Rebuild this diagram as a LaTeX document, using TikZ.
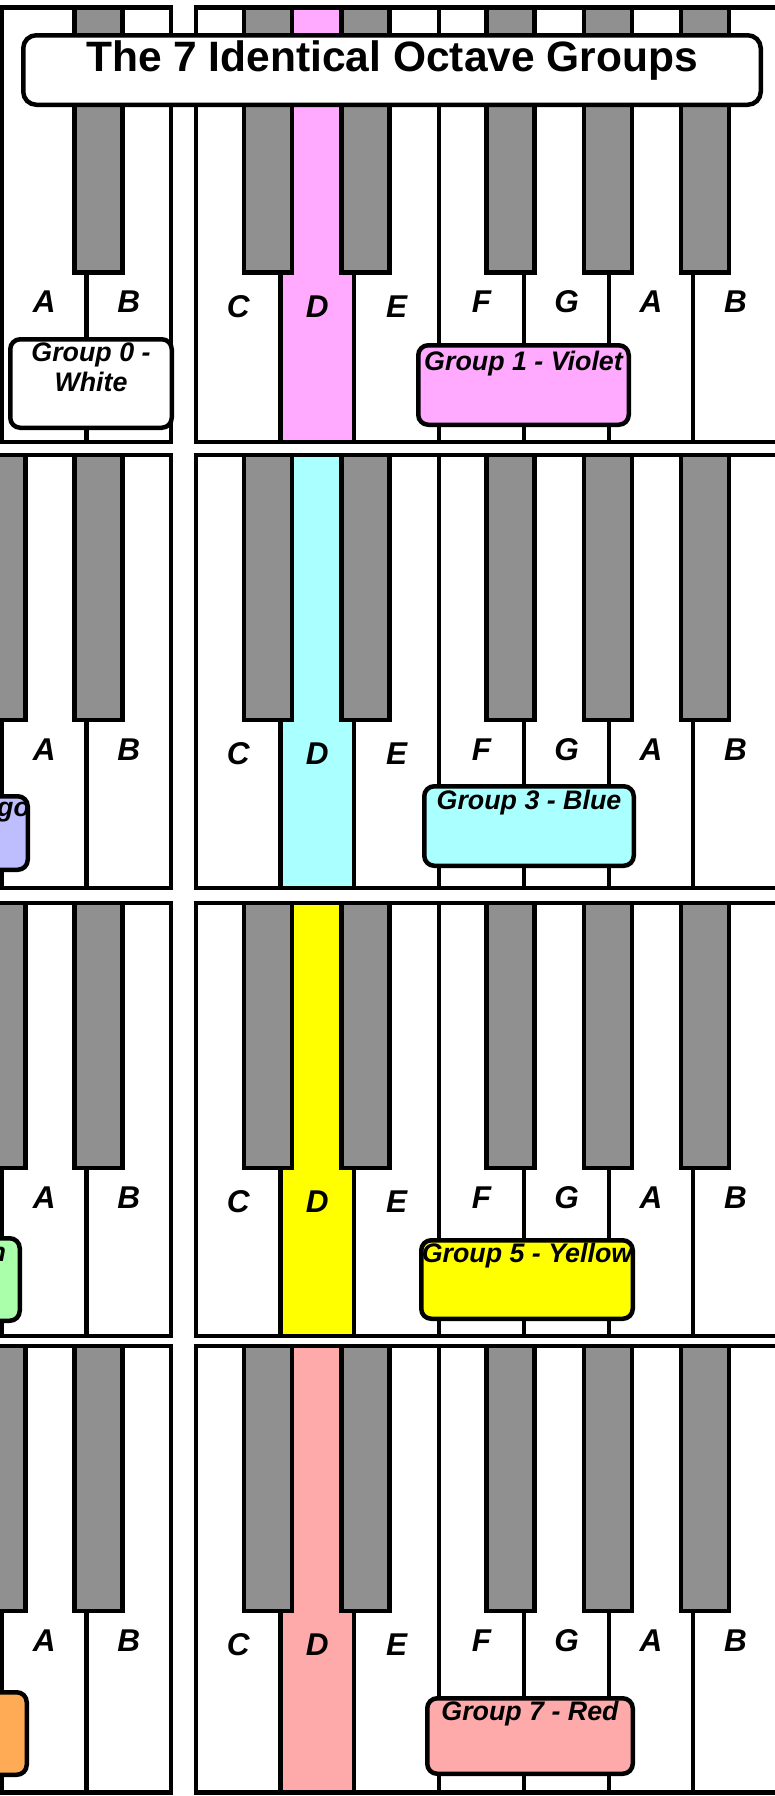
\documentclass[tikz,border=0pt]{standalone}
\usepackage{fontspec}
\setmainfont{Liberation Sans}
\usetikzlibrary{positioning}

\definecolor{keygray}{RGB}{144,144,144}
\definecolor{violetD}{RGB}{255,170,255}
\definecolor{indigoD}{RGB}{190,190,255}
\definecolor{blueD}{RGB}{170,255,255}
\definecolor{greenD}{RGB}{170,255,170}
\definecolor{yellowD}{RGB}{255,255,0}
\definecolor{orangeD}{RGB}{255,170,85}
\definecolor{redD}{RGB}{255,170,170}

\tikzset{
  keyline/.style={line width=4.5pt},
  blackkey/.style={draw=black, fill=keygray, line width=4.5pt},
  notename/.style={font=\fontsize{31.5}{31.5}\selectfont\bfseries\itshape, inner sep=0pt},
  groupbox/.style={draw=black, line width=4.5pt, rounded corners=10pt, inner sep=0pt},
  grouptext/.style={font=\fontsize{26.8}{30}\selectfont\bfseries\itshape, inner sep=0pt, align=center},
  titlebox/.style={draw=black, fill=white, line width=4.5pt, rounded corners=13pt, inner sep=0pt},
  titletext/.style={font=\fontsize{42.5}{42.5}\selectfont\bfseries, inner sep=0pt},
}

\begin{document}
\begin{tikzpicture}[x=1pt,y=-1pt]

\clip (0,0) rectangle (775,1796);
\fill[white] (0,0) rectangle (775,1796);

% one keyboard strip per row: top, bottom, colour of D
\foreach \t/\b/\dcol [count=\r] in {7.5/442/violetD, 455/888/blueD, 903/1336/yellowD, 1346/1792.5/redD}{
  \fill[\dcol] (280.5,\t) rectangle (354,\b); %D

  \draw[keyline] (2,\t) rectangle (171,\b);
  \draw[keyline] (86.5,\t) -- (86.5,\b);
  \draw[keyline] (790,\t) -- (196,\t) -- (196,\b) -- (790,\b);
  \foreach \x in {280.5,354,439,524,609,693}
    \draw[keyline] (\x,\t) -- (\x,\b);

  \foreach \x in {74.5,244,341.5,486.5,584,681}
    \draw[blackkey] (\x,\t) rectangle ++(48,265);
  \ifnum\r>1 \draw[blackkey] (-22.5,\t) rectangle ++(48,265); \fi

  \foreach \x/\n [count=\i] in {44.25/A, 128.75/B, 481.5/F, 566.5/G, 651/A, 735.5/B}
    \node[notename] (note\r-\i) at (\x,\t+294.5) {\n};
  \foreach \x/\n [count=\i] in {238.25/C, 317.25/D, 396.5/E}
    \node[notename] (low\r-\i) at (\x,\t+299) {\n};
}

% group labels
\node[groupbox, fill=white, minimum width=161.5pt, minimum height=88.5pt] (g0) at (91,383.5) {};
\node[grouptext, below=5.75pt of g0.north] (g0t) {Group 0 -\\White};
\node[groupbox, fill=violetD, minimum width=210.5pt, minimum height=79.5pt] (g1) at (523.5,385) {};
\node[grouptext, below=7.75pt of g1.north] (g1t) {Group 1 - Violet};

\node[groupbox, fill=indigoD, minimum width=202.5pt, minimum height=73.5pt] (g2) at (-73.5,833) {};
\node[grouptext, below=3.25pt of g2.north] (g2t) {Group 2 - Indigo};
\node[groupbox, fill=blueD, minimum width=209.5pt, minimum height=79.5pt] (g3) at (529,826) {};
\node[grouptext, below=5.5pt of g3.north] (g3t) {Group 3 - Blue};

\node[groupbox, fill=greenD, minimum width=205.5pt, minimum height=82.5pt] (g4) at (-83,1279.5) {};
\node[grouptext, below=6.25pt of g4.north, xshift=-13pt] (g4t) {Group 4 - Green};
\node[groupbox, fill=yellowD, minimum width=211.5pt, minimum height=78.5pt] (g5) at (527,1279.5) {};
\node[grouptext, below=4.75pt of g5.north] (g5t) {Group 5 - Yellow};

\node[groupbox, fill=orangeD, minimum width=204.5pt, minimum height=82.5pt] (g6) at (-75.5,1733.5) {};
\node[groupbox, fill=redD, minimum width=205.5pt, minimum height=75.5pt] (g7) at (530,1736) {};
\node[grouptext, below=4.75pt of g7.north] (g7t) {Group 7 - Red};

% title
\node[titlebox, minimum width=737.5pt, minimum height=69.5pt] (title) at (392,70) {};
\node[titletext, below=7.75pt of title.north] (titlet) {The 7 Identical Octave Groups};

\end{tikzpicture}
\end{document}
